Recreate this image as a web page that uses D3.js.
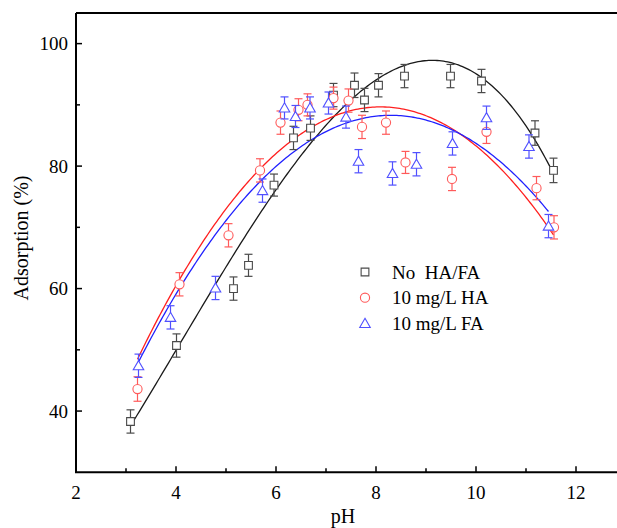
<!DOCTYPE html>
<html>
<head>
<meta charset="utf-8">
<script src="https://cdn.jsdelivr.net/npm/d3@7"></script>
<style>
  body { margin: 0; background: #fff; }
  text { font-family: "Liberation Serif", "DejaVu Serif", serif; }
</style>
</head>
<body>
<svg id="chart" width="617" height="528"></svg>
<script>
var phNone = [3.09, 4.01, 5.15, 5.45, 5.96, 6.35, 6.69, 7.15, 7.57, 7.77, 8.05, 8.57, 9.49, 10.11, 11.18, 11.55];
var adsNone = [38.3, 50.7, 60.0, 63.8, 76.9, 84.6, 86.2, 91.6, 93.2, 90.8, 93.2, 94.7, 94.7, 93.9, 85.4, 79.3];
var errNone = [1.9, 1.9, 1.9, 1.8, 1.8, 1.9, 2.0, 1.9, 2.0, 1.9, 1.9, 1.9, 1.9, 1.9, 2.0, 2.0];

var phHA = [3.23, 4.07, 5.05, 5.68, 6.09, 6.45, 6.63, 7.15, 7.45, 7.72, 8.2, 8.59, 9.52, 10.21, 11.21, 11.56];
var adsHA = [43.6, 60.7, 68.7, 79.3, 87.1, 89.2, 90.0, 91.1, 90.7, 86.4, 87.1, 80.6, 77.9, 85.6, 76.4, 70.0];
var errHA = [2.0, 1.9, 1.9, 1.9, 1.9, 1.8, 1.8, 1.8, 1.9, 1.9, 1.9, 1.8, 1.9, 1.9, 1.9, 1.9];

var phFA = [3.25, 3.89, 4.79, 5.73, 6.17, 6.39, 6.68, 7.05, 7.4, 7.65, 8.33, 8.81, 9.53, 10.21, 11.06, 11.45];
var adsFA = [47.4, 55.3, 60.1, 76.0, 89.5, 88.1, 89.5, 90.3, 88.0, 80.8, 78.8, 80.3, 83.7, 87.9, 83.2, 70.2];
var errFA = [1.9, 1.9, 1.9, 1.9, 1.8, 1.8, 1.8, 1.8, 1.8, 1.9, 1.9, 1.9, 1.9, 1.9, 1.9, 1.9];

// points read along the fitted curves of the figure
var fitPhNone = [3.09, 4.01, 5.95, 6.48, 7.01, 8.35, 8.88, 10.11, 11.07, 11.55];
var fitAdsNone = [38.0, 49.5, 75.0, 81.6, 87.3, 96.5, 97.0, 93.8, 84.8, 79.7];
var fitPhHA = [3.23, 5.68, 7.68, 8.14, 11.55];
var fitAdsHA = [48.4, 79.7, 89.3, 89.6, 68.8];
var fitPhFA = [3.25, 5.68, 8.41, 9.08, 10.41, 11.45];
var fitAdsFA = [48.0, 77.5, 88.2, 87.5, 81.0, 72.7];

var seriesNames = ["No  HA/FA", "10 mg/L HA", "10 mg/L FA"];
var xTicks = [2, 4, 6, 8, 10, 12];
var yTicks = [40, 60, 80, 100];

var svg = d3.select("#chart");

var x = d3.scaleLinear().domain([2, 13]).range([76, 626]);
var y = d3.scaleLinear().domain([30, 105]).range([472.3, 13]);

var series = [
  {name: seriesNames[0], ph: phNone, ads: adsNone, err: errNone, fx: fitPhNone, fy: fitAdsNone, deg: 3,
   shape: d3.symbolSquare, size: 60, mark: "#4a4a4a", line: "#1a1a1a"},
  {name: seriesNames[1], ph: phHA, ads: adsHA, err: errHA, fx: fitPhHA, fy: fitAdsHA, deg: 2,
   shape: d3.symbolCircle, size: 66, mark: "#ff5a5a", line: "#ff1f1f"},
  {name: seriesNames[2], ph: phFA, ads: adsFA, err: errFA, fx: fitPhFA, fy: fitAdsFA, deg: 2,
   shape: d3.symbolTriangle, size: 48, mark: "#5050ff", line: "#2020ff"}
];

// least squares polynomial
function polyfit(xs, ys, deg) {
  var n = deg + 1, A = [], b = [];
  for (var i = 0; i < n; i++) {
    A.push(new Array(n).fill(0));
    b.push(0);
  }
  xs.forEach(function(xv, k) {
    for (var i = 0; i < n; i++) {
      b[i] += ys[k] * Math.pow(xv, i);
      for (var j = 0; j < n; j++) A[i][j] += Math.pow(xv, i + j);
    }
  });
  for (var c = 0; c < n; c++) {
    var p = c;
    for (var r = c + 1; r < n; r++) if (Math.abs(A[r][c]) > Math.abs(A[p][c])) p = r;
    var t = A[c]; A[c] = A[p]; A[p] = t;
    var tb = b[c]; b[c] = b[p]; b[p] = tb;
    for (var r = c + 1; r < n; r++) {
      var f = A[r][c] / A[c][c];
      for (var j = c; j < n; j++) A[r][j] -= f * A[c][j];
      b[r] -= f * b[c];
    }
  }
  var coef = new Array(n).fill(0);
  for (var i = n - 1; i >= 0; i--) {
    var s = b[i];
    for (var j = i + 1; j < n; j++) s -= A[i][j] * coef[j];
    coef[i] = s / A[i][i];
  }
  return coef;
}

// frame
svg.append("line").attr("x1", 76).attr("x2", 617).attr("y1", y(105)).attr("y2", y(105))
  .attr("stroke", "#000").attr("stroke-width", 2);
svg.append("line").attr("x1", 76).attr("x2", 76).attr("y1", y(105)).attr("y2", y(30))
  .attr("stroke", "#000").attr("stroke-width", 2);
svg.append("line").attr("x1", 75).attr("x2", 617).attr("y1", y(30)).attr("y2", y(30))
  .attr("stroke", "#000").attr("stroke-width", 2);

// ticks (inward)
d3.range(3, 13).forEach(function(v) {
  var major = v % 2 == 0;
  svg.append("line").attr("x1", x(v)).attr("x2", x(v))
    .attr("y1", y(30)).attr("y2", y(30) - (major ? 6 : 4))
    .attr("stroke", "#000").attr("stroke-width", 1.5);
});
[40, 50, 60, 70, 80, 90, 100].forEach(function(v) {
  var major = v % 20 == 0;
  svg.append("line").attr("x1", 76).attr("x2", 76 + (major ? 6 : 4))
    .attr("y1", y(v)).attr("y2", y(v))
    .attr("stroke", "#000").attr("stroke-width", 1.5);
});

svg.selectAll("text.xt").data(xTicks).enter().append("text")
  .attr("class", "xt")
  .attr("x", function(d) { return x(d); })
  .attr("y", 499)
  .attr("text-anchor", "middle")
  .attr("font-size", 19)
  .text(function(d) { return d; });

svg.selectAll("text.yt").data(yTicks).enter().append("text")
  .attr("class", "yt")
  .attr("x", 68)
  .attr("y", function(d) { return y(d) + 6.5; })
  .attr("text-anchor", "end")
  .attr("font-size", 19)
  .text(function(d) { return d; });

svg.append("text").attr("x", 343).attr("y", 523).attr("text-anchor", "middle")
  .attr("font-size", 20).text("pH");
svg.append("text").attr("transform", "translate(28,238) rotate(-90)")
  .attr("text-anchor", "middle").attr("font-size", 20).text("Adsorption (%)");

var line = d3.line().x(function(d) { return x(d[0]); }).y(function(d) { return y(d[1]); });

series.forEach(function(s) {
  var coef = polyfit(s.fx, s.fy, s.deg);
  var x0 = d3.min(s.fx), x1 = d3.max(s.fx);
  var pts = d3.range(0, 201).map(function(i) {
    var xv = x0 + (x1 - x0) * i / 200;
    var yv = coef.reduce(function(acc, c, k) { return acc + c * Math.pow(xv, k); }, 0);
    return [xv, yv];
  });
  svg.append("path").datum(pts).attr("d", line)
    .attr("fill", "none").attr("stroke", s.line).attr("stroke-width", 1.3);
});

series.forEach(function(s) {
  var g = svg.append("g");
  var sym = d3.symbol().type(s.shape).size(s.size);
  s.ph.forEach(function(p, i) {
    var cx = x(p), top = y(s.ads[i] + s.err[i]), bot = y(s.ads[i] - s.err[i]);
    g.append("line").attr("x1", cx).attr("x2", cx).attr("y1", top).attr("y2", bot)
      .attr("stroke", s.mark).attr("stroke-width", 1.2);
    g.append("line").attr("x1", cx - 4).attr("x2", cx + 4).attr("y1", top).attr("y2", top)
      .attr("stroke", s.mark).attr("stroke-width", 1.2);
    g.append("line").attr("x1", cx - 4).attr("x2", cx + 4).attr("y1", bot).attr("y2", bot)
      .attr("stroke", s.mark).attr("stroke-width", 1.2);
    g.append("path").attr("d", sym)
      .attr("transform", "translate(" + cx + "," + (y(s.ads[i]) + (s.shape === d3.symbolTriangle ? 1 : 0)) + ")")
      .attr("fill", "#fff").attr("stroke", s.mark).attr("stroke-width", 1.1);
  });
});

// legend
var legend = svg.append("g").attr("transform", "translate(365,272)");
series.forEach(function(s, i) {
  legend.append("path").attr("d", d3.symbol().type(s.shape).size(s.size))
    .attr("transform", "translate(0," + (i * 25.7 + (s.shape === d3.symbolTriangle ? 1 : 0)) + ")")
    .attr("fill", "none").attr("stroke", s.mark).attr("stroke-width", 1.1);
  legend.append("text").attr("x", 27).attr("y", i * 25.7 + 6.5)
    .attr("font-size", 19).style("white-space", "pre").attr("xml:space", "preserve")
    .text(s.name);
});
</script>
</body>
</html>
